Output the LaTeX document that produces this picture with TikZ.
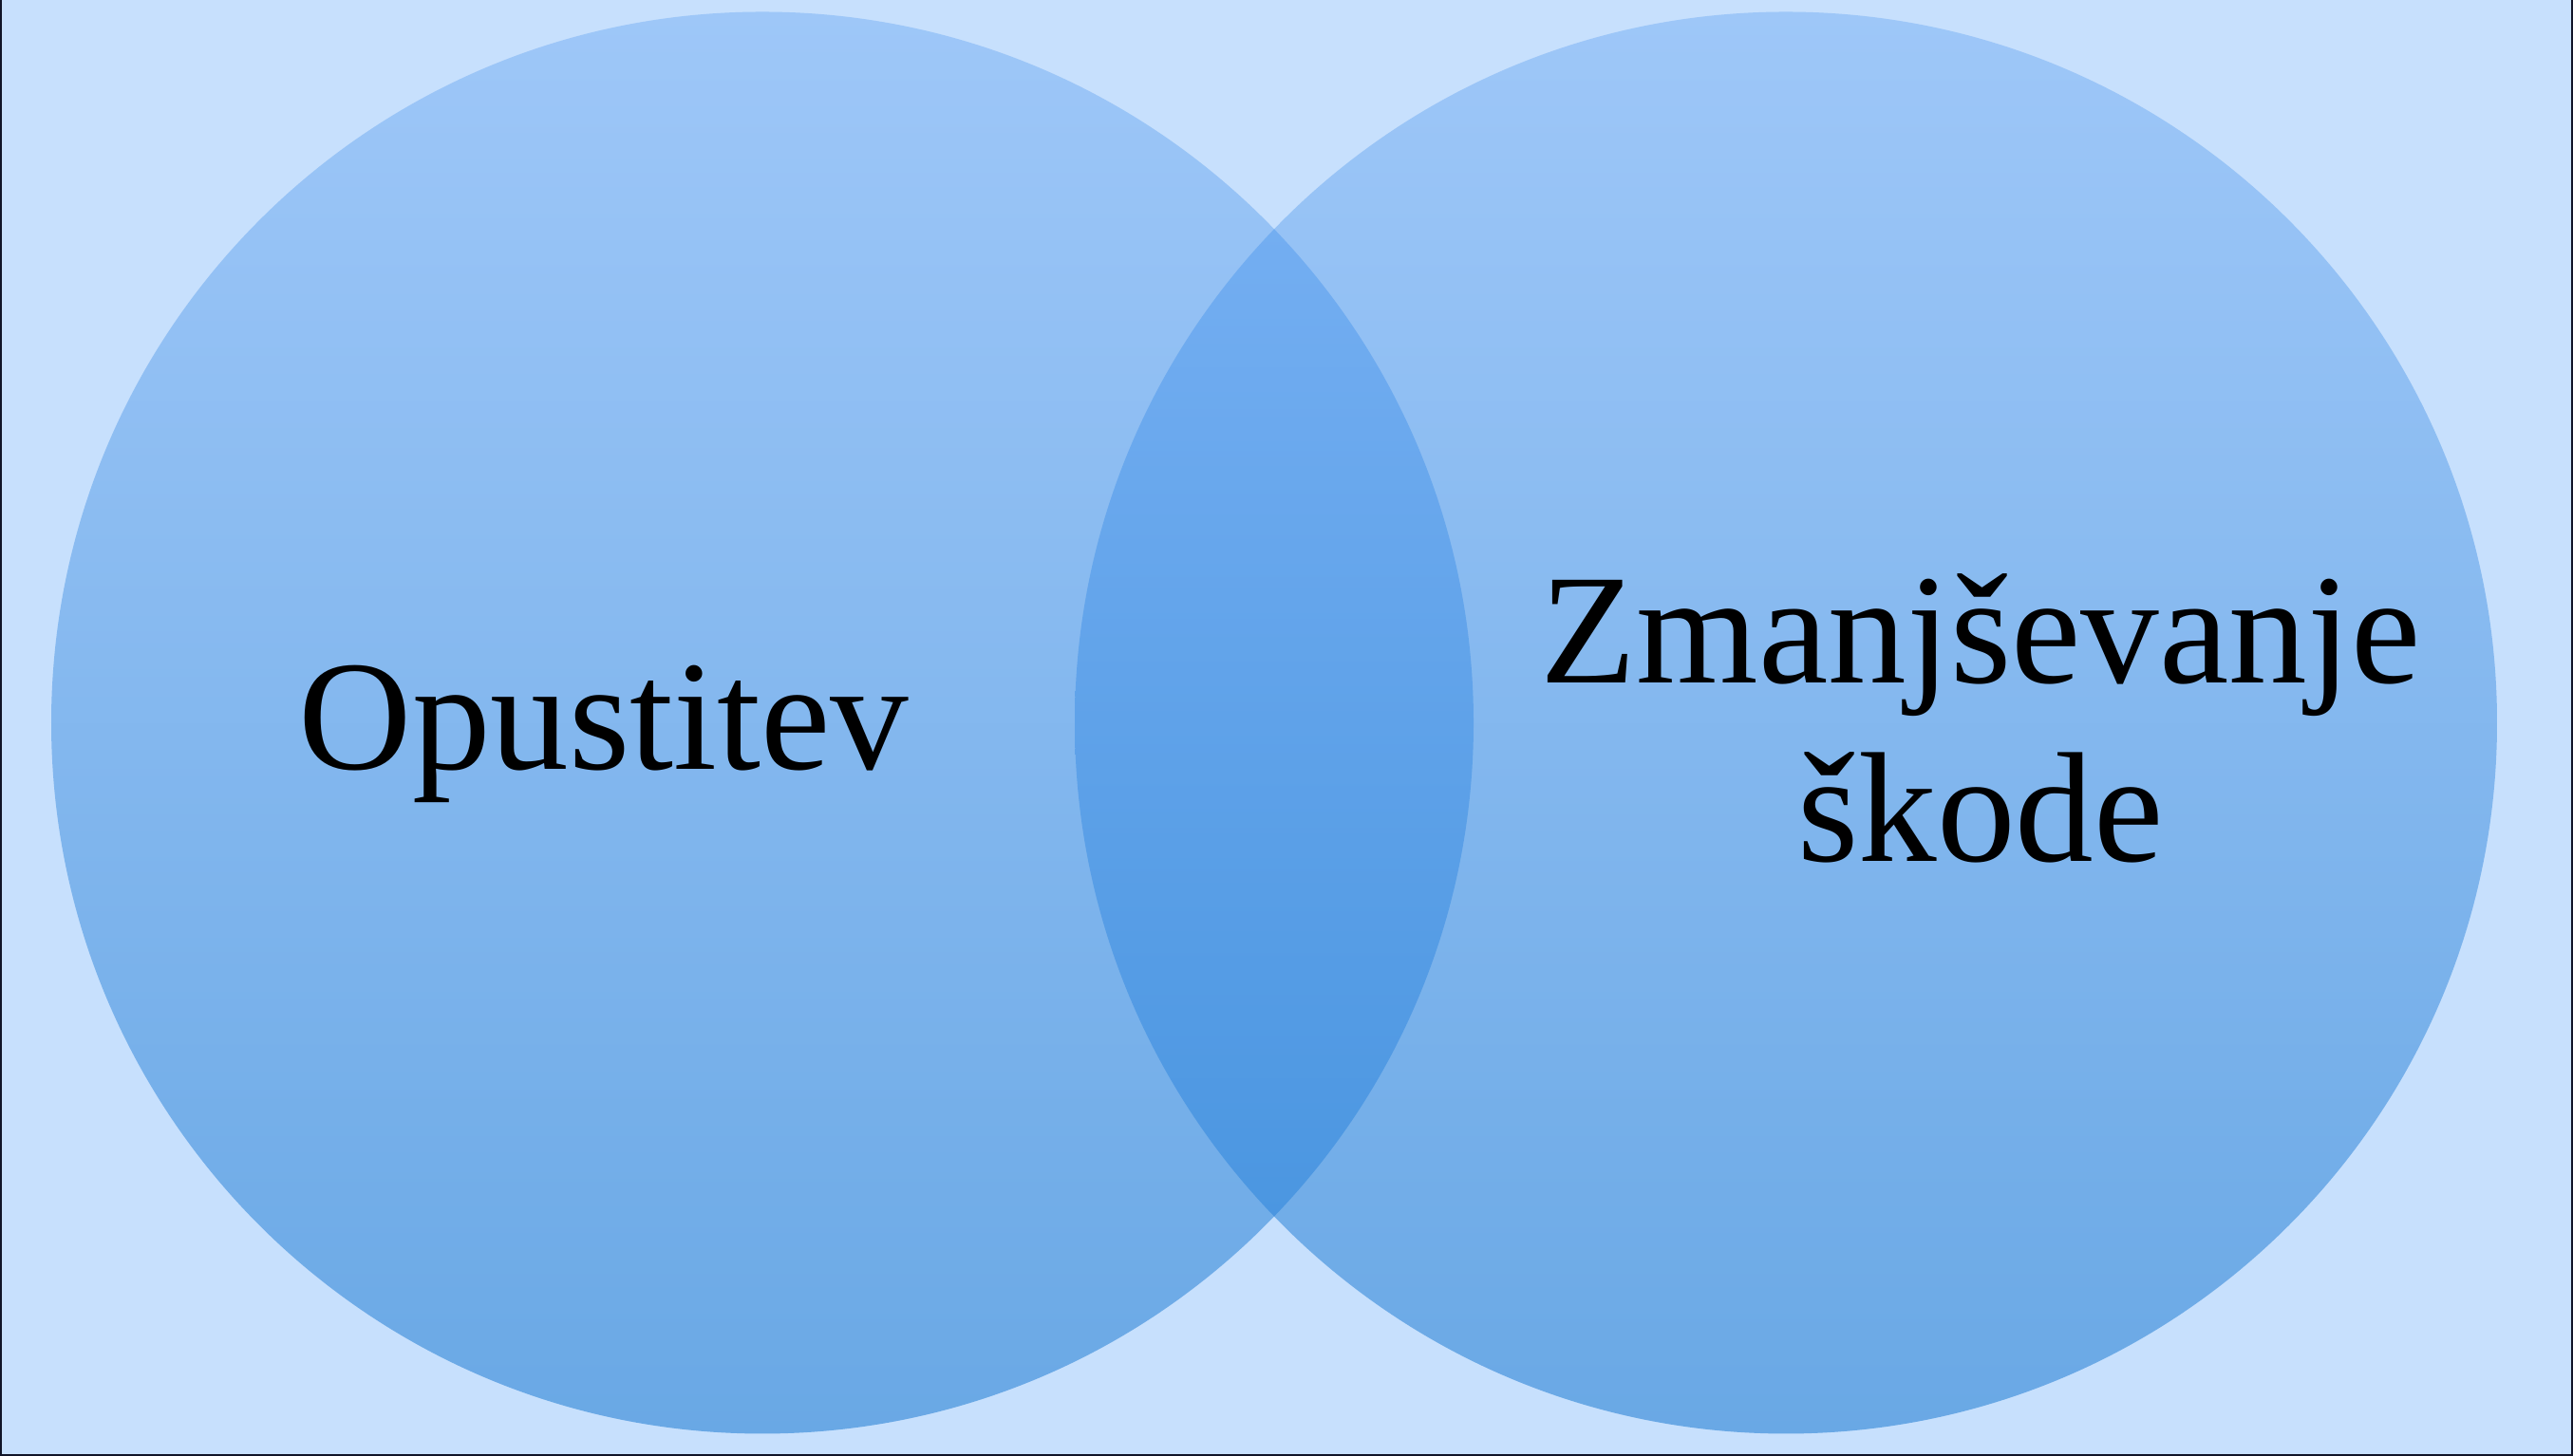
\documentclass[tikz,border=0pt]{standalone}
\usepackage{fontspec}
\setmainfont{Liberation Serif}

\begin{document}
\begin{tikzpicture}[venntext/.style={font=\fontsize{47}{53.5}\selectfont, text=black}]
    % Define colors
    \definecolor{bgcolor}{RGB}{199,224,253}
    \definecolor{circletop}{RGB}{158,199,248}
    \definecolor{circlebottom}{RGB}{105,168,229}
    \definecolor{overlaptop}{RGB}{124,179,245}
    \definecolor{overlapbottom}{RGB}{66,145,221}
    \definecolor{framecolor}{RGB}{16,20,40}

    % Define dimensions
    \def\picwidth{27.10}
    \def\picheight{15.34}
    \def\radius{7.49}
    \def\cy{7.725}
    \def\leftx{8.03}
    \def\rightx{18.81}

    \useasboundingbox (0,0) rectangle (\picwidth,\picheight);
    \fill[bgcolor] (0,0) rectangle (\picwidth,\picheight);

    % Circles
    \foreach \cx in {\leftx, \rightx} {
        \shade[top color=circletop, bottom color=circlebottom] (\cx,\cy) circle (\radius);
    }

    % Overlap of the two circles
    \begin{scope}
        \clip (\leftx,\cy) circle (\radius);
        \shade[top color=overlaptop, bottom color=overlapbottom] (\rightx,\cy) circle (\radius);
    \end{scope}

    % Frame (left, bottom, right)
    \draw[framecolor, line width=0.6pt] (0.01,\picheight) -- (0.01,0.01) -- (\picwidth-0.01,0.01) -- (\picwidth-0.01,\picheight);

    % Labels
    \node[venntext, anchor=base] (opustitev) at (6.36,7.23) {Opustitev};
    \node[venntext, align=center] (zmanjsevanje) at (20.86,7.77) {Zmanjševanje\\škode};
\end{tikzpicture}
\end{document}
